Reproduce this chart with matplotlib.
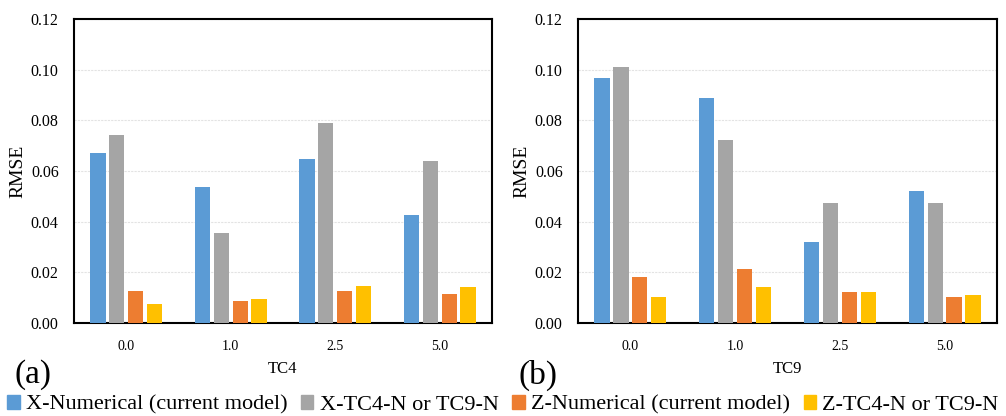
import numpy as np
import matplotlib.pyplot as plt
from matplotlib.patches import Patch

plt.rcParams['font.family'] = ['Liberation Serif', 'DejaVu Serif']

# data
speeds = ['0.0', '1.0', '2.5', '5.0']
series = ['X-Numerical (current model)', 'X-TC4-N or TC9-N',
          'Z-Numerical (current model)', 'Z-TC4-N or TC9-N']
colors = ['#5B9BD5', '#A5A5A5', '#ED7D31', '#FFC000']

tc4_x_num = [0.0670, 0.0535, 0.0647, 0.0426]
tc4_x_ref = [0.0744, 0.0355, 0.0790, 0.0640]
tc4_z_num = [0.0126, 0.0087, 0.0126, 0.0113]
tc4_z_ref = [0.0074, 0.0096, 0.0145, 0.0142]

tc9_x_num = [0.0969, 0.0887, 0.0321, 0.0520]
tc9_x_ref = [0.1009, 0.0722, 0.0472, 0.0474]
tc9_z_num = [0.0181, 0.0213, 0.0124, 0.0104]
tc9_z_ref = [0.0104, 0.0143, 0.0121, 0.0110]

panels = [
    ('TC4', '(a)', [tc4_x_num, tc4_x_ref, tc4_z_num, tc4_z_ref]),
    ('TC9', '(b)', [tc9_x_num, tc9_x_ref, tc9_z_num, tc9_z_ref]),
]

fig = plt.figure(figsize=(10.06, 4.16), dpi=100)
W, H = 1006, 416
boxes = [(74, 19, 492, 323), (578, 19, 997, 323)]

x = np.arange(len(speeds))
step = 0.18
width = 0.145

for (name, tag, vals), (l, t, r, b) in zip(panels, boxes):
    ax = fig.add_axes([l / W, 1 - b / H, (r - l) / W, (b - t) / H])
    for i, v in enumerate(vals):
        ax.bar(x + (i - 1.5) * step, v, width, color=colors[i], zorder=3)
    ax.set_xlim(-0.5, 3.5)
    ax.set_ylim(0, 0.12)
    ax.set_yticks(np.arange(0, 0.121, 0.02))
    ax.set_yticklabels(['%.2f' % v for v in np.arange(0, 0.121, 0.02)], fontsize=11.5)
    ax.set_xticks(x)
    ax.set_xticklabels(speeds, fontsize=10)
    ax.tick_params(length=0, pad=12)
    ax.tick_params(axis='y', pad=11)
    ax.grid(axis='y', color='#E3E3E3', linewidth=0.8, linestyle=(0, (2, 1)), zorder=0)
    for s in ax.spines.values():
        s.set_linewidth(1.5)
    ax.set_ylabel('RMSE', fontsize=14)
    ax.yaxis.set_label_coords(-48 / (r - l), 0.5)
    ax.set_xlabel(name, fontsize=12, labelpad=6)
    fig.text((l - 60) / W, 1 - 375 / H, tag, fontsize=24, va='center', ha='left')

handles = [Patch(color=c) for c in colors]
fig.legend(handles, series, loc='center', bbox_to_anchor=(0.5, 1 - 405 / H),
           ncol=4, frameon=False, fontsize=16, handlelength=0.55, handleheight=0.55,
           handletextpad=0.3, columnspacing=0.6, borderaxespad=0)

fig.savefig('out.png', dpi=100)
